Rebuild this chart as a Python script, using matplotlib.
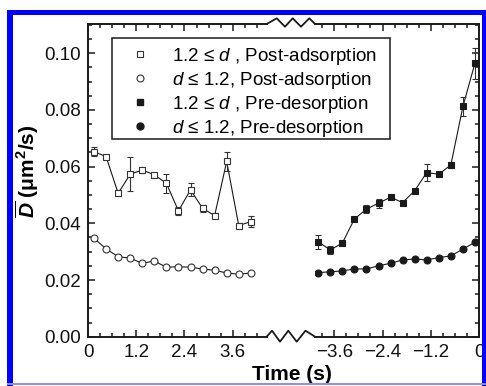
import matplotlib
matplotlib.use("Agg")
import matplotlib.pyplot as plt
from matplotlib.lines import Line2D
from matplotlib.patches import Rectangle
from matplotlib.ticker import MultipleLocator

plt.rcParams['font.family'] = ['Liberation Sans', 'DejaVu Sans']
plt.rcParams['mathtext.fontset'] = 'custom'
plt.rcParams['mathtext.rm'] = 'Liberation Sans'
plt.rcParams['mathtext.it'] = 'Liberation Sans:italic'
plt.rcParams['mathtext.bf'] = 'Liberation Sans:bold'
plt.rcParams['mathtext.bfit'] = 'Liberation Sans:bold:italic'

# ---- data ----
t_post = [0.15, 0.45, 0.75, 1.05, 1.35, 1.65, 1.95, 2.25, 2.55, 2.85, 3.15, 3.45, 3.75, 4.05]
post_large = [0.0653, 0.0635, 0.0506, 0.0573, 0.0588, 0.0571, 0.0541, 0.0444, 0.0518,
              0.0453, 0.0427, 0.0618, 0.0392, 0.0406]
post_large_err = [0.0015, 0.0006, 0.0010, 0.0060, 0.0012, 0.0008, 0.0034, 0.0014, 0.0023,
                  0.0012, 0.0010, 0.0035, 0.0010, 0.0018]
post_small = [0.0347, 0.0310, 0.0282, 0.0277, 0.0259, 0.0267, 0.0245, 0.0247, 0.0245,
              0.0239, 0.0234, 0.0225, 0.0220, 0.0225]

t_pre = [-4.0, -3.7, -3.4, -3.1, -2.8, -2.5, -2.2, -1.9, -1.6, -1.3, -1.0, -0.7, -0.4, -0.1]
pre_large = [0.0335, 0.0306, 0.0330, 0.0415, 0.0450, 0.0471, 0.0492, 0.0473, 0.0515,
             0.0579, 0.0573, 0.0606, 0.0812, 0.0965]
pre_large_err = [0.0025, 0.0013, 0.0005, 0.0005, 0.0015, 0.0016, 0.0008, 0.0006, 0.0006,
                 0.0030, 0.0006, 0.0010, 0.0035, 0.0055]
pre_small = [0.0226, 0.0229, 0.0232, 0.0239, 0.0239, 0.0250, 0.0259, 0.0271, 0.0274,
             0.0271, 0.0279, 0.0285, 0.0309, 0.0333]

left_ticks = [0, 1.2, 2.4, 3.6]
left_ticklabels = ['0', '1.2', '2.4', '3.6']
right_ticks = [-3.6, -2.4, -1.2, 0]
right_ticklabels = ['\u22123.6', '\u22122.4', '\u22121.2', '0']
y_ticks = [0.00, 0.02, 0.04, 0.06, 0.08, 0.10]
y_ticklabels = ['0.00', '0.02', '0.04', '0.06', '0.08', '0.10']

labels = [r'1.2 ≤ $d$ , Post-adsorption', r'$d$ ≤ 1.2, Post-adsorption',
          r'1.2 ≤ $d$ , Pre-desorption', r'$d$ ≤ 1.2, Pre-desorption']

# ---- layout (pixel geometry) ----
W, H = 486, 386
fig = plt.figure(figsize=(W / 100, H / 100), dpi=100)

def fx(x):
    return x / W

def fy(y):
    return 1 - y / H

ax_top, ax_bot = 24, 336.7
xl0, xl1 = 88, 266.7
xr0, xr1 = 315, 479
scale = 40.2

axL = fig.add_axes([fx(xl0), fy(ax_bot), (xl1 - xl0) / W, (ax_bot - ax_top) / H])
axR = fig.add_axes([fx(xr0), fy(ax_bot), (xr1 - xr0) / W, (ax_bot - ax_top) / H], sharey=axL)

dark = '#1a1a1a'
lw_sp = 1.4
ms = 5.0

# left axes: post-adsorption
axL.plot(t_post, post_large, color=dark, lw=0.8, zorder=2)
axL.errorbar(t_post, post_large, yerr=post_large_err, fmt='none', ecolor='#333333',
             elinewidth=0.8, capsize=2.2, capthick=0.8, zorder=2)
axL.plot(t_post, post_large, ls='none', marker='s', ms=ms, mfc='white', mec='#333333', mew=0.8, zorder=3)
axL.plot(t_post, post_small, color=dark, lw=0.8, marker='o', ms=ms, mfc='white',
         mec='#333333', mew=0.8, zorder=3)

# right axes: pre-desorption
axR.plot(t_pre, pre_large, color=dark, lw=0.8, zorder=2)
axR.errorbar(t_pre, pre_large, yerr=pre_large_err, fmt='none', ecolor='#333333',
             elinewidth=0.8, capsize=2.2, capthick=0.8, zorder=2)
axR.plot(t_pre, pre_large, ls='none', marker='s', ms=ms, mfc=dark, mec=dark, mew=0.8, zorder=3)
axR.plot(t_pre, pre_small, color=dark, lw=0.8, marker='o', ms=ms, mfc=dark, mec=dark, mew=0.8, zorder=3)

axL.set_xlim(0, (xl1 - xl0) / scale)
axR.set_xlim(-(xr1 - xr0) / scale, 0)
axL.set_ylim(0, 0.1103)

for ax in (axL, axR):
    for s in ax.spines.values():
        s.set_linewidth(lw_sp)
        s.set_color(dark)
    ax.xaxis.set_minor_locator(MultipleLocator(0.3))
    ax.tick_params(which='both', direction='in', top=True, bottom=True, colors=dark,
                   width=1.1, labelsize=13.5, labelcolor='#111111')
    ax.tick_params(which='major', length=5, pad=5)
    ax.tick_params(which='minor', length=3)
    ax.patch.set_alpha(0)

axL.spines['right'].set_visible(False)
axR.spines['left'].set_visible(False)
axL.set_xticks(left_ticks)
axL.set_xticklabels(left_ticklabels)
axR.set_xticks(right_ticks)
axR.set_xticklabels(right_ticklabels)
axL.set_yticks(y_ticks)
axL.set_yticklabels(y_ticklabels)
axL.yaxis.set_minor_locator(MultipleLocator(0.005))
axL.tick_params(axis='y', which='both', left=True, right=False)
axR.tick_params(axis='y', which='both', left=False, right=True, labelleft=False, labelright=False)

# break zigzags
top_zz = [(266.7, 24), (276.7, 18.3), (285, 26.7), (292.7, 18.3), (301, 26.7), (309.3, 18.3), (315, 24)]
bot_zz = [(266.7, 336.7), (272, 330.7), (280, 341.7), (288.3, 330.7), (296.7, 341.7), (305.5, 330.7), (315, 336.7)]
for zz in (top_zz, bot_zz):
    fig.add_artist(Line2D([fx(p[0]) for p in zz], [fy(p[1]) for p in zz],
                          transform=fig.transFigure, color=dark, lw=1.3))

# legend (frame drawn separately to match the reference box)
handles = [
    Line2D([], [], ls='none', marker='s', ms=ms, mfc='white', mec='#333333', mew=0.8),
    Line2D([], [], ls='none', marker='o', ms=ms, mfc='white', mec='#333333', mew=0.8),
    Line2D([], [], ls='none', marker='s', ms=ms, mfc=dark, mec=dark),
    Line2D([], [], ls='none', marker='o', ms=ms, mfc=dark, mec=dark),
]
fig.patches.append(Rectangle((fx(112), fy(139)), (390 - 112) / W, (139 - 38) / H,
                             transform=fig.transFigure, facecolor='white', edgecolor=dark,
                             lw=1.1, zorder=4))
leg = fig.legend(handles, labels, loc='upper left', bbox_to_anchor=(fx(112), fy(39)),
                 fontsize=13.5, frameon=False, borderaxespad=0, handlelength=2.3,
                 handletextpad=0.55, labelspacing=0.16, borderpad=0.35)
leg.set_zorder(5)

# axis labels
fig.text(fx(292), fy(375), 'Time (s)', ha='center', va='center', fontsize=15, fontweight='bold')
fig.text(fx(27), fy(171), r'$\overline{\mathbfit{D}}$ ($\mathbf{\mu}$m$^{\mathbf{2}}$/s)', rotation=90,
         ha='center', va='center', fontsize=15, fontweight='bold')

# blue frame
def rect(x0, y0, x1, y1, color):
    fig.patches.append(Rectangle((fx(x0), fy(y1)), (x1 - x0) / W, (y1 - y0) / H,
                                 transform=fig.transFigure, color=color, lw=0, zorder=10))

rect(7, 10, 12.5, 386, '#0000ff')
rect(7, 10, 486, 15, '#0000ff')
rect(482, 10, 485.5, 386, '#0000ff')
rect(7, 383, 486, 385, '#8c8cff')

fig.savefig('out.png', dpi=100)
